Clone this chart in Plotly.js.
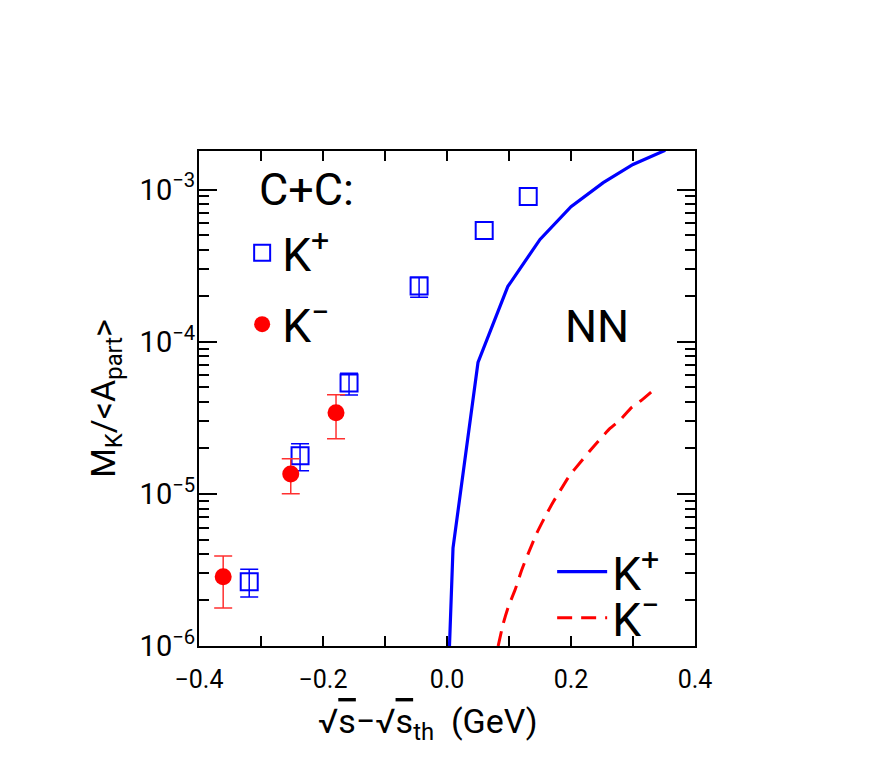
<!DOCTYPE html>
<html><head><meta charset="utf-8">
<script src="https://cdn.plot.ly/plotly-3.0.1.min.js"></script>
<style>body{margin:0;padding:0;background:#fff}</style>
</head><body>
<div id="plot" style="width:872px;height:772px"></div>
<script>
// C+C data, K+ (open squares); null = no error bar shown
const kpX  = [-0.319, -0.237, -0.158, -0.045, 0.060, 0.131];
const kpY  = [2.64e-6, 1.78e-5, 5.34e-5, 2.32e-4, 5.37e-4, 9.0e-4];
const kpHi = [3.2e-6, 2.13e-5, 6.2e-5, 2.65e-4, null, null];
const kpLo = [2.1e-6, 1.42e-5, 4.46e-5, 1.96e-4, null, null];
// C+C data, K- (filled circles)
const kmX  = [-0.361, -0.252, -0.179];
const kmY  = [2.85e-6, 1.35e-5, 3.41e-5];
const kmHi = [3.9e-6, 1.70e-5, 4.48e-5];
const kmLo = [1.78e-6, 1.0e-5, 2.30e-5];
// NN curves
const nnKpX = [0.004, 0.0097, 0.050, 0.098, 0.150, 0.200, 0.252, 0.300, 0.352];
const nnKpY = [1.0e-6, 4.4e-6, 7.3e-5, 2.3e-4, 4.7e-4, 7.7e-4, 1.11e-3, 1.46e-3, 1.81e-3];
const nnKmX = [0.0825, 0.0908, 0.0989, 0.1097, 0.1205, 0.1311, 0.1447, 0.1581, 0.1715, 0.1850,
               0.1984, 0.2145, 0.2306, 0.2440, 0.2629, 0.2790, 0.2979, 0.3140, 0.3382];
const nnKmY = [1.0e-6, 1.41e-6, 1.81e-6, 2.33e-6, 3.16e-6, 4.06e-6, 5.50e-6, 7.06e-6, 8.87e-6, 1.09e-5,
               1.33e-5, 1.60e-5, 1.92e-5, 2.22e-5, 2.69e-5, 3.05e-5, 3.70e-5, 4.13e-5, 5.01e-5];
// ticks
const xTickVals = [-0.4, -0.2, 0.0, 0.2, 0.4];
const xTickText = ["\u22120.4", "\u22120.2", "0.0", "0.2", "0.4"];
const xMinorVals = [-0.3, -0.1, 0.1, 0.3];
const yTickVals = [1e-6, 1e-5, 1e-4, 1e-3];
const yTickText = ["10<sup>\u22126</sup>", "10<sup>\u22125</sup>", "10<sup>\u22124</sup>", "10<sup>\u22123</sup>"];

const yMinorVals = [];
for (let e = -6; e <= -3; e++) for (let m = 2; m <= 9; m++) yMinorVals.push(m * Math.pow(10, e));

const FONT = "Roboto, 'DejaVu Sans', sans-serif";
// points of the K+ set that carry error bars
const kpIdx = kpHi.map((v, i) => i).filter(i => kpHi[i] != null);
const pick = (arr, idx) => idx.map(i => arr[i]);

const traces = [
  {x: nnKpX, y: nnKpY, mode: 'lines', name: 'K<sup>+</sup>', legend: 'legend3',
   line: {color: '#0000ff', width: 3.2}},
  {x: nnKmX, y: nnKmY, mode: 'lines', name: 'K<sup>\u2212</sup>', legend: 'legend4',
   line: {color: '#ff0000', width: 3, dash: '15px,9px', shape: 'spline', smoothing: 0.5}},
  // K+ error bars (only where given)
  {x: pick(kpX, kpIdx), y: pick(kpY, kpIdx), mode: 'markers', showlegend: false, hoverinfo: 'skip',
   marker: {size: 1, opacity: 0, color: '#0000ff'},
   error_y: {type: 'data', symmetric: false,
             array: kpIdx.map(i => kpHi[i] - kpY[i]), arrayminus: kpIdx.map(i => kpY[i] - kpLo[i]),
             color: '#0000ff', thickness: 1.5, width: 9}},
  {x: kpX, y: kpY, mode: 'markers', name: 'K<sup>+</sup>', legend: 'legend',
   marker: {symbol: 'square-open', size: 17, color: '#0000ff', line: {width: 2, color: '#0000ff'}}},
  {x: kmX, y: kmY, mode: 'markers', name: 'K<sup>\u2212</sup>', legend: 'legend2',
   marker: {symbol: 'circle', size: 17, color: '#ff0000'},
   error_y: {type: 'data', symmetric: false,
             array: kmHi.map((v, i) => v - kmY[i]), arrayminus: kmLo.map((v, i) => kmY[i] - v),
             color: '#ff3030', thickness: 1.5, width: 9}}
];

const legBase = {bgcolor: 'rgba(0,0,0,0)', borderwidth: 0, font: {family: FONT, size: 46, color: '#000'},
                 xanchor: 'left', yanchor: 'middle', xref: 'paper', yref: 'paper'};

const layout = {
  width: 872, height: 772,
  margin: {l: 199, r: 177, t: 151, b: 126},
  paper_bgcolor: '#fff', plot_bgcolor: '#fff',
  font: {family: FONT, color: '#000'},
  showlegend: true,
  legend:  Object.assign({}, legBase, {x: 0.087, y: 0.794}),
  legend2: Object.assign({}, legBase, {x: 0.087, y: 0.650}),
  legend3: Object.assign({}, legBase, {x: 0.712, y: 0.150, itemwidth: 50}),
  legend4: Object.assign({}, legBase, {x: 0.712, y: 0.057, itemwidth: 50}),
  xaxis: {
    range: [-0.4, 0.4], showgrid: false, zeroline: false,
    showline: true, linewidth: 2, linecolor: '#000', mirror: 'ticks',
    ticks: 'inside', ticklen: 10, tickwidth: 2, tickcolor: '#000',
    tickmode: 'array', tickvals: xTickVals, ticktext: xTickText,
    ticklabelstandoff: 10,
    tickfont: {family: FONT, size: 25, color: '#000'},
    minor: {tickmode: 'array', tickvals: xMinorVals, ticks: 'inside', ticklen: 10, tickwidth: 2, tickcolor: '#000', showgrid: false}
  },
  yaxis: {
    type: 'log', range: [-6, -2.747], showgrid: false, zeroline: false,
    showline: true, linewidth: 2, linecolor: '#000', mirror: 'ticks',
    ticks: 'inside', ticklen: 18, tickwidth: 2, tickcolor: '#000',
    tickmode: 'array', tickvals: yTickVals, ticktext: yTickText,
    ticklabelstandoff: -4,
    tickfont: {family: FONT, size: 29, color: '#000'},
    minor: {tickmode: 'array', tickvals: yMinorVals, ticks: 'inside', ticklen: 10, tickwidth: 2, tickcolor: '#000', showgrid: false},
    title: {text: "M<sub>K</sub>/&lt;A<sub>part</sub>&gt;", font: {family: FONT, size: 34, color: '#000'}, standoff: 14}
  },
  annotations: [
    {text: 'C+C:', xref: 'paper', yref: 'paper', x: 0.117, y: 0.923, xanchor: 'left', yanchor: 'middle',
     showarrow: false, font: {family: FONT, size: 45, color: '#000'}},
    {text: 'NN', xref: 'paper', yref: 'paper', x: 0.802, y: 0.646, xanchor: 'center', yanchor: 'middle',
     showarrow: false, font: {family: FONT, size: 45, color: '#000'}},
    {text: "\u221A<span style='text-decoration:overline'>s</span>\u2212\u221A<span style='text-decoration:overline'>s</span><sub>th</sub>  (GeV)",
     xref: 'paper', yref: 'paper', x: 0.462, y: -0.156, xanchor: 'center', yanchor: 'middle',
     showarrow: false, font: {family: FONT, size: 34, color: '#000'}}
  ]
};

Plotly.newPlot('plot', traces, layout, {displayModeBar: false, staticPlot: true});
</script>
</body></html>
